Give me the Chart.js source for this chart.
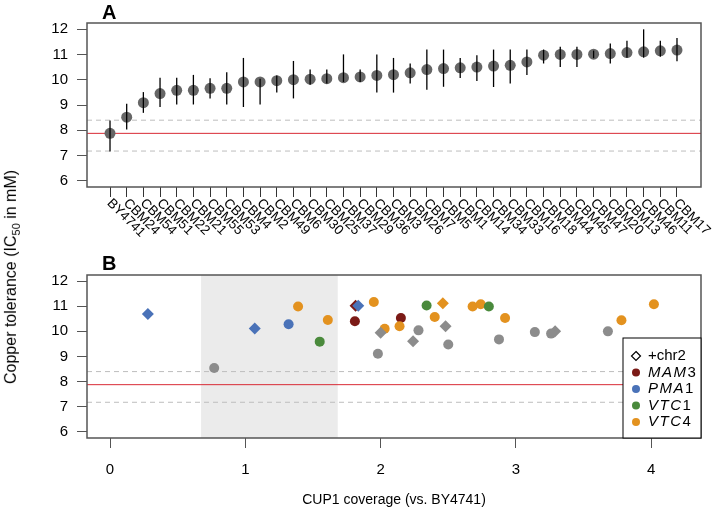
<!DOCTYPE html>
<html>
<head>
<meta charset="utf-8">
<script src="https://cdn.jsdelivr.net/npm/chart.js@4.4.0/dist/chart.umd.min.js"></script>
<style>
  body { margin: 0; background: #fff; font-family: "Liberation Sans", Arial, sans-serif; }
  #wrap { position: relative; width: 717px; height: 513px; }
  canvas { position: absolute; left: 0; }
  .panel { position: absolute; font-weight: bold; font-size: 20px; line-height: 20px; }
  #ylab { position: absolute; left: 12px; top: 277px; transform: translate(-50%, -50%) rotate(-90deg);
          white-space: nowrap; font-size: 16px; }
  #ylab sub { font-size: 11px; }
</style>
</head>
<body>
<div id="wrap">
  <canvas id="panelA" width="717" height="250" style="top:0"></canvas>
  <canvas id="panelB" width="717" height="263" style="top:250px"></canvas>
  <div class="panel" style="left:102px;top:2px">A</div>
  <div class="panel" style="left:102px;top:253px">B</div>
  <div id="ylab">Copper tolerance (IC<sub>50</sub> in mM)</div>
</div>
<script>
// panel A: IC50 per strain, with error bars
const strains = ['BY4741', 'CBM24', 'CBM54', 'CBM51', 'CBM22', 'CBM21', 'CBM55', 'CBM53', 'CBM4', 'CBM2',
  'CBM49', 'CBM6', 'CBM30', 'CBM25', 'CBM37', 'CBM29', 'CBM36', 'CBM3', 'CBM26', 'CBM7', 'CBM5', 'CBM1',
  'CBM14', 'CBM34', 'CBM33', 'CBM16', 'CBM18', 'CBM44', 'CBM45', 'CBM47', 'CBM20', 'CBM13', 'CBM46', 'CBM11', 'CBM17'];
const tolMean = [7.88, 8.52, 9.09, 9.45, 9.58, 9.58, 9.66, 9.66, 9.91, 9.91,
  9.96, 10.0, 10.02, 10.04, 10.08, 10.11, 10.17, 10.2, 10.27, 10.4, 10.44, 10.47,
  10.5, 10.54, 10.57, 10.7, 10.97, 11.0, 11.0, 11.01, 11.03, 11.07, 11.1, 11.14, 11.17];
const tolLo = [7.16, 8.03, 8.69, 8.92, 9.02, 9.02, 9.26, 9.02, 8.92, 9.02,
  9.49, 9.26, 9.8, 9.85, 9.91, 9.91, 9.49, 9.49, 9.85, 9.6, 9.72, 10.07,
  9.95, 9.71, 9.85, 10.19, 10.64, 10.5, 10.5, 10.85, 10.64, 10.87, 10.87, 10.91, 10.73];
const tolHi = [8.39, 9.05, 9.51, 10.08, 10.08, 10.19, 10.06, 10.29, 10.86, 10.04,
  10.17, 10.74, 10.4, 10.4, 11.0, 10.4, 11.0, 10.86, 10.64, 11.19, 11.19, 10.86,
  10.97, 11.19, 11.19, 11.19, 11.19, 11.3, 11.3, 11.15, 11.43, 11.54, 11.99, 11.54, 11.65];

// reference (BY4741) level and its range
const refMean = 7.88;
const refHi = 8.4;
const refLo = 7.18;
const yTicks = [6, 7, 8, 9, 10, 11, 12];

// panel B: CUP1 coverage vs tolerance
const covX = [0.28, 0.77, 1.07, 1.32, 1.39, 1.61, 1.55, 1.835, 1.815, 1.81, 1.95, 2.0, 2.03, 1.98, 2.15, 2.14,
  2.28, 2.24, 2.34, 2.46, 2.4, 2.48, 2.5, 2.68, 2.74, 2.8, 2.92, 2.875, 3.14, 3.26, 3.29, 3.68, 3.78, 4.02];
const covY = [10.69, 8.54, 10.11, 10.28, 10.99, 10.45, 9.59, 11.02, 11.02, 10.4, 11.17, 9.94, 10.1, 9.11, 10.53, 10.2,
  10.04, 9.61, 11.03, 11.12, 10.57, 10.2, 9.48, 10.99, 11.08, 10.99, 10.53, 9.68, 9.97, 9.91, 10.0, 10.0, 10.44, 11.08];
const covGene = ['PMA1', 'none', 'PMA1', 'PMA1', 'VTC4', 'VTC4', 'VTC1', 'PMA1', 'MAM3', 'MAM3', 'VTC4', 'none', 'VTC4', 'none', 'MAM3', 'VTC4',
  'none', 'none', 'VTC1', 'VTC4', 'VTC4', 'none', 'none', 'VTC4', 'VTC4', 'VTC1', 'VTC4', 'none', 'none', 'none', 'none', 'none', 'VTC4', 'VTC4'];
const covChr2 = [true, false, true, false, false, false, false, true, true, false, false, true, false, false, false, false,
  false, true, false, true, false, true, false, false, false, false, false, false, false, false, true, false, false, false];
const xTicksB = [0, 1, 2, 3, 4];
const lowCovRange = [0.673, 1.683];

const geneColors = { none: '#8c8c8c', PMA1: '#4a72b8', VTC1: '#4a8a3c', VTC4: '#e3921f', MAM3: '#7b1a16' };
const legendItems = [['+chr2', ''], ['MAM', '3'], ['PMA', '1'], ['VTC', '1'], ['VTC', '4']];

const tickFont = { family: 'Liberation Sans, Arial, sans-serif', size: 15 };

const refLines = {
    id: 'refLines',
    beforeDatasetsDraw(chart) {
        const { ctx, chartArea, scales } = chart;
        ctx.save();
        const shade = chart.options.plugins.refLines.shade;
        if (shade) {
            const x0 = scales.x.getPixelForValue(shade[0]);
            const x1 = scales.x.getPixelForValue(shade[1]);
            ctx.fillStyle = '#ebebeb';
            ctx.fillRect(x0, chartArea.top, x1 - x0, chartArea.bottom - chartArea.top);
        }
        ctx.lineWidth = 1;
        ctx.strokeStyle = '#bdbdbd';
        ctx.setLineDash([5, 4]);
        [refHi, refLo].forEach(v => {
            const y = scales.y.getPixelForValue(v);
            ctx.beginPath();
            ctx.moveTo(chartArea.left, y);
            ctx.lineTo(chartArea.right, y);
            ctx.stroke();
        });
        ctx.setLineDash([]);
        ctx.strokeStyle = '#d92a35';
        const yr = scales.y.getPixelForValue(refMean);
        ctx.beginPath();
        ctx.moveTo(chartArea.left, yr);
        ctx.lineTo(chartArea.right, yr);
        ctx.stroke();
        ctx.restore();
    }
};

const frame = {
    id: 'frame',
    afterDraw(chart) {
        const { ctx, chartArea } = chart;
        ctx.save();
        ctx.strokeStyle = '#555';
        ctx.lineWidth = 1.5;
        ctx.strokeRect(chartArea.left, chartArea.top, chartArea.right - chartArea.left, chartArea.bottom - chartArea.top);
        ctx.restore();
    }
};

const errorBars = {
    id: 'errorBars',
    afterDatasetsDraw(chart) {
        const { ctx, scales } = chart;
        ctx.save();
        ctx.strokeStyle = '#000';
        ctx.lineWidth = 1.3;
        strains.forEach((s, i) => {
            const x = scales.x.getPixelForValue(i + 1);
            ctx.beginPath();
            ctx.moveTo(x, scales.y.getPixelForValue(tolLo[i]));
            ctx.lineTo(x, scales.y.getPixelForValue(tolHi[i]));
            ctx.stroke();
        });
        ctx.restore();
    }
};

const strainLabels = {
    id: 'strainLabels',
    afterDraw(chart) {
        const { ctx, scales, chartArea } = chart;
        ctx.save();
        ctx.font = '13.5px "Liberation Sans", Arial, sans-serif';
        ctx.fillStyle = '#000';
        ctx.textAlign = 'left';
        ctx.textBaseline = 'middle';
        strains.forEach((s, i) => {
            const x = scales.x.getPixelForValue(i + 1);
            ctx.save();
            ctx.translate(x - 1, chartArea.bottom + 14);
            ctx.rotate(Math.PI / 4);
            ctx.fillText(s, 0, 0);
            ctx.restore();
        });
        ctx.restore();
    }
};

const geneLegend = {
    id: 'geneLegend',
    afterDraw(chart) {
        const { ctx, chartArea } = chart;
        const w = 78, h = 100;
        const left = chartArea.right - w, top = chartArea.bottom - h;
        ctx.save();
        ctx.fillStyle = '#fff';
        ctx.fillRect(left, top, w, h);
        ctx.strokeStyle = '#000';
        ctx.lineWidth = 1;
        ctx.strokeRect(left, top, w, h);
        ctx.textBaseline = 'middle';
        ctx.textAlign = 'left';
        legendItems.forEach((item, i) => {
            const y = top + 18 + i * 16.5;
            const sx = left + 13;
            if (i === 0) {
                ctx.beginPath();
                ctx.moveTo(sx, y - 4.5);
                ctx.lineTo(sx + 4.5, y);
                ctx.lineTo(sx, y + 4.5);
                ctx.lineTo(sx - 4.5, y);
                ctx.closePath();
                ctx.strokeStyle = '#000';
                ctx.lineWidth = 1.2;
                ctx.stroke();
            } else {
                ctx.beginPath();
                ctx.arc(sx, y, 4, 0, Math.PI * 2);
                ctx.fillStyle = geneColors[item[0] + item[1]];
                ctx.fill();
            }
            ctx.fillStyle = '#000';
            ctx.letterSpacing = i === 0 ? '0px' : '1.5px';
            ctx.font = (i === 0 ? '' : 'italic ') + '15px "Liberation Sans", Arial, sans-serif';
            ctx.fillText(item[0], left + 25, y);
            if (item[1]) {
                const wd = ctx.measureText(item[0]).width;
                ctx.font = '15px "Liberation Sans", Arial, sans-serif';
                ctx.fillText(item[1], left + 25 + wd, y);
            }
        });
        ctx.restore();
    }
};

const yAxis = () => ({
    min: 5.76,
    max: 12.24,
    afterBuildTicks: s => { s.ticks = yTicks.map(v => ({ value: v })); },
    afterFit: s => { s.width = 87; },
    border: { display: false },
    grid: { drawOnChartArea: false, drawTicks: true, tickLength: 10, color: '#555' },
    ticks: { font: tickFont, color: '#000', padding: 9 }
});

new Chart(document.getElementById('panelA'), {
    type: 'scatter',
    data: {
        datasets: [{
            data: tolMean.map((v, i) => ({ x: i + 1, y: v })),
            backgroundColor: '#666666',
            borderWidth: 0,
            pointRadius: 5.5
        }]
    },
    options: {
        responsive: false,
        animation: false,
        layout: { padding: { top: 23, right: 16, left: 0, bottom: 0 } },
        plugins: { legend: { display: false }, tooltip: { enabled: false }, refLines: {} },
        scales: {
            x: {
                min: -0.38,
                max: 36.44,
                afterBuildTicks: s => { s.ticks = strains.map((n, i) => ({ value: i + 1 })); },
                afterFit: s => { s.height = 63; },
                border: { display: false },
                grid: { drawOnChartArea: false, drawTicks: true, tickLength: 10, color: '#333' },
                ticks: { display: false }
            },
            y: yAxis()
        }
    },
    plugins: [refLines, errorBars, frame, strainLabels]
});

const geneOrder = ['none', 'PMA1', 'VTC1', 'VTC4', 'MAM3'];
const bDatasets = [];
geneOrder.forEach(g => {
    [false, true].forEach(d => {
        const pts = [];
        covX.forEach((x, i) => {
            if (covGene[i] === g && covChr2[i] === d) pts.push({ x: x, y: covY[i] });
        });
        if (pts.length) {
            bDatasets.push({
                data: pts,
                backgroundColor: geneColors[g],
                borderWidth: 0,
                pointStyle: d ? 'rectRot' : 'circle',
                pointRadius: d ? 6 : 5
            });
        }
    });
});

new Chart(document.getElementById('panelB'), {
    type: 'scatter',
    data: { datasets: bDatasets },
    options: {
        responsive: false,
        animation: false,
        layout: { padding: { top: 25, right: 16, left: 0, bottom: 3 } },
        plugins: { legend: { display: false }, tooltip: { enabled: false }, refLines: { shade: lowCovRange } },
        scales: {
            x: {
                min: -0.17,
                max: 4.368,
                afterBuildTicks: s => { s.ticks = xTicksB.map(v => ({ value: v })); },
                afterFit: s => { s.height = 72; },
                border: { display: false },
                grid: { drawOnChartArea: false, drawTicks: true, tickLength: 10, color: '#555' },
                ticks: { font: tickFont, color: '#000', padding: 13 },
                title: {
                    display: true,
                    text: 'CUP1 coverage (vs. BY4741)',
                    font: { family: 'Liberation Sans, Arial, sans-serif', size: 14 },
                    color: '#000',
                    padding: { top: 0, bottom: 1 }
                }
            },
            y: yAxis()
        }
    },
    plugins: [refLines, frame, geneLegend]
});
</script>
</body>
</html>
